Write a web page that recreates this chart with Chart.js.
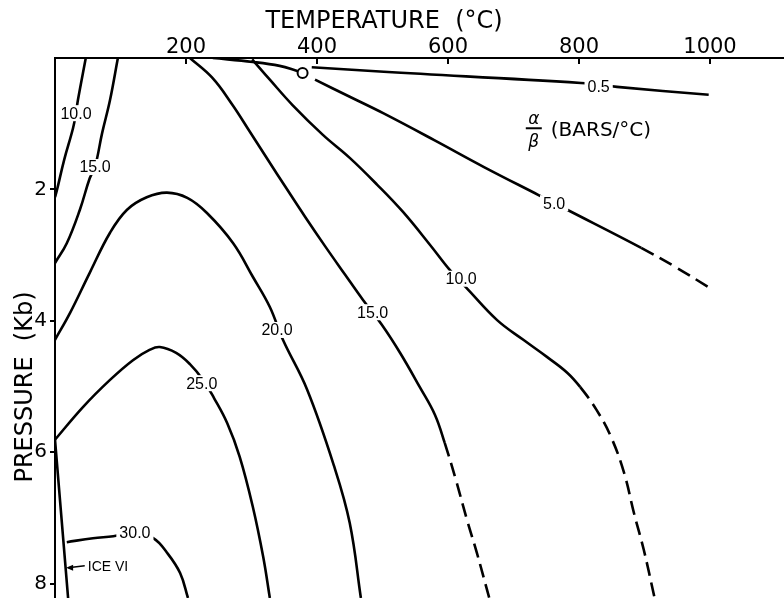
<!DOCTYPE html>
<html>
<head>
<meta charset="utf-8">
<script src="https://cdn.jsdelivr.net/npm/chart.js@4"></script>
<style>
  html, body { margin: 0; padding: 0; background: #fff; }
  #wrap { width: 784px; height: 598px; }
</style>
</head>
<body>
<div id="wrap"><canvas id="chart" width="784" height="598"></canvas></div>
<script>
// axis ticks
const xTicks = [200, 400, 600, 800, 1000];   // temperature, °C
const yTicks = [2, 4, 6, 8];                 // pressure, Kb

// contours of alpha/beta (bars/°C), points as [°C, Kb]
// the *Dashed arrays are the extrapolated (dashed) continuations
const c05 = [[392, 0.14], [502, 0.21], [803, 0.38], [858, 0.44], [998, 0.56]];
const c5 = [[397, 0.33], [450, 0.59], [501, 0.84], [579, 1.25], [655, 1.66], [739, 2.09], [782, 2.31], [895, 2.89]];
const c5Dashed = [[947, 3.18], [998, 3.49]];
const c10 = [[301, 0.02], [328, 0.33], [363, 0.72], [409, 1.17], [450, 1.52], [492, 1.93], [531, 2.34],
             [573, 2.85], [603, 3.23], [631, 3.53], [675, 3.99], [715, 4.29], [751, 4.55], [782, 4.79], [802, 5.01]];
const c10Dashed = [[827, 5.36], [849, 5.77], [869, 6.32], [884, 6.93], [899, 7.49], [915, 8.2]];
const c15 = [[206, 0], [240, 0.3], [270, 0.7], [298, 1.13], [325, 1.55], [353, 1.98], [382, 2.42], [412, 2.86],
             [443, 3.3], [470, 3.68], [499, 4.06], [527, 4.49], [557, 5.01], [580, 5.43], [595, 5.86]];
const c15Dashed = [[612, 6.42], [629, 7.03], [644, 7.53], [663, 8.22]];
const c20 = [[0, 4.29], [23, 3.88], [53, 3.27], [84, 2.66], [110, 2.31], [140, 2.12], [171, 2.05], [202, 2.13],
             [232, 2.36], [272, 2.82], [302, 3.33], [328, 3.79], [348, 4.29], [385, 5.05], [426, 6.21], [450, 7.08], [467, 8.22]];
const c25 = [[0, 5.81], [43, 5.31], [84, 4.9], [119, 4.6], [145, 4.44], [160, 4.4], [185, 4.49], [206, 4.66],
             [226, 4.9], [243, 5.18], [263, 5.56], [282, 6.07], [302, 6.83], [318, 7.6], [328, 8.22]];
const c30 = [[18, 7.37], [58, 7.31], [89, 7.28], [122, 7.23], [150, 7.31], [171, 7.53], [191, 7.84], [203, 8.22]];
const c10Low = [[47, 0], [35, 0.64], [32, 0.84], [27.5, 1.07], [14, 1.55], [3, 2.01], [0, 2.12]];
const c15Low = [[96, 0], [84, 0.64], [72, 1.14], [61, 1.66], [53, 1.83], [38, 2.31], [18, 2.82], [0, 3.12]];
const saturation = [[241, 0], [302, 0.06], [343, 0.12], [371, 0.2]];
const iceVI = [[0, 5.81], [20, 8.22]];
const criticalPoint = [[378, 0.23]];

// contour labels: [°C, Kb, text]
const contourLabels = [
  [830, 0.43, '0.5'], [762, 2.21, '5.0'], [620, 3.36, '10.0'], [485, 3.87, '15.0'],
  [339, 4.14, '20.0'], [224, 4.95, '25.0'], [122, 7.23, '30.0'], [32, 0.84, '10.0'], [61, 1.66, '15.0']
];
const iceLabel = [50, 7.73];
const iceArrowTip = [17, 7.76];
const ratioLabel = [731, 1.1];

function line(pts, dashedPts) {
  const all = dashedPts ? pts.concat(dashedPts) : pts;
  const dashFrom = pts.length - 1;
  return {
    data: all.map(([x, y]) => ({ x, y })),
    showLine: true,
    borderColor: '#000',
    borderWidth: 2.6,
    pointRadius: 0,
    tension: 0.4,
    fill: false,
    segment: {
      borderDash: ctx => (dashedPts && ctx.p0DataIndex >= dashFrom ? [14, 7] : undefined)
    }
  };
}

const noPadding = s => {
  s.paddingLeft = 0; s.paddingRight = 0; s.paddingTop = 0; s.paddingBottom = 0;
};

const overlay = {
  id: 'overlay',
  afterDatasetsDraw(chart) {
    const { ctx, chartArea: a, scales: { x, y } } = chart;
    ctx.save();

    // tick marks on the temperature axis point into the plot
    ctx.strokeStyle = '#000';
    ctx.lineWidth = 2;
    xTicks.forEach(v => {
      const px = x.getPixelForValue(v);
      ctx.beginPath();
      ctx.moveTo(px, a.top);
      ctx.lineTo(px, a.top + 6);
      ctx.stroke();
    });

    // contour values, set into a gap of their line
    ctx.font = '16px "Liberation Sans"';
    ctx.textAlign = 'center';
    ctx.textBaseline = 'middle';
    contourLabels.forEach(([t, p, txt]) => {
      const px = x.getPixelForValue(t), py = y.getPixelForValue(p);
      const w = ctx.measureText(txt).width;
      ctx.fillStyle = '#fff';
      ctx.fillRect(px - w / 2 - 3, py - 8, w + 6, 16);
      ctx.fillStyle = '#000';
      ctx.fillText(txt, px, py + 1);
    });

    // ICE VI with arrow
    const ix = x.getPixelForValue(iceLabel[0]), iy = y.getPixelForValue(iceLabel[1]);
    const tx = x.getPixelForValue(iceArrowTip[0]), ty = y.getPixelForValue(iceArrowTip[1]);
    ctx.font = '14px "Liberation Sans"';
    ctx.textAlign = 'left';
    ctx.fillText('ICE VI', ix, iy + 1);
    ctx.lineWidth = 1.5;
    ctx.beginPath();
    ctx.moveTo(ix - 3, iy);
    ctx.lineTo(tx + 2, ty);
    ctx.stroke();
    ctx.beginPath();
    ctx.moveTo(tx, ty);
    ctx.lineTo(tx + 7, ty - 3);
    ctx.lineTo(tx + 7, ty + 3);
    ctx.closePath();
    ctx.fill();

    // alpha / beta (BARS/°C)
    const rx = x.getPixelForValue(ratioLabel[0]), ry = y.getPixelForValue(ratioLabel[1]);
    ctx.textAlign = 'center';
    ctx.font = 'italic 17px "DejaVu Sans"';
    ctx.fillText('α', rx, ry - 11);
    ctx.fillText('β', rx, ry + 12);
    ctx.lineWidth = 2;
    ctx.beginPath();
    ctx.moveTo(rx - 8, ry - 2);
    ctx.lineTo(rx + 8, ry - 2);
    ctx.stroke();
    ctx.font = '20px "DejaVu Sans"';
    ctx.textAlign = 'left';
    ctx.fillText('(BARS/°C)', rx + 17, ry + 1);

    // axis titles
    ctx.font = '24px "DejaVu Sans"';
    ctx.textAlign = 'center';
    ctx.textBaseline = 'alphabetic';
    ctx.fillText('TEMPERATURE  (°C)', 384, 28);
    ctx.translate(32, 387);
    ctx.rotate(-Math.PI / 2);
    ctx.fillText('PRESSURE  (Kb)', 0, 0);
    ctx.restore();
  }
};

new Chart(document.getElementById('chart'), {
  type: 'scatter',
  data: {
    datasets: [
      line(c05), line(c5, c5Dashed), line(c10, c10Dashed), line(c15, c15Dashed),
      line(c20), line(c25), line(c30), line(c10Low), line(c15Low), line(saturation), line(iceVI),
      {
        data: criticalPoint.map(([x, y]) => ({ x, y })),
        pointRadius: 5,
        pointBorderWidth: 2,
        pointBorderColor: '#000',
        pointBackgroundColor: '#fff'
      }
    ]
  },
  options: {
    responsive: false,
    animation: false,
    layout: { padding: 0, autoPadding: false },
    plugins: { legend: { display: false }, tooltip: { enabled: false } },
    scales: {
      x: {
        type: 'linear',
        position: 'top',
        min: 0,
        max: 1113,
        afterBuildTicks: s => { s.ticks = xTicks.map(v => ({ value: v })); },
        afterFit: s => { s.height = 58; noPadding(s); },
        ticks: { color: '#000', font: { family: 'DejaVu Sans', size: 21 }, padding: -2, maxRotation: 0,
                 callback: v => String(v) },
        grid: { display: true, drawOnChartArea: false, drawTicks: false },
        border: { display: true, color: '#000', width: 2 }
      },
      y: {
        type: 'linear',
        reverse: true,
        min: 0,
        max: 8.22,
        afterBuildTicks: s => { s.ticks = yTicks.map(v => ({ value: v })); },
        afterFit: s => { s.width = 55; noPadding(s); },
        ticks: { color: '#000', font: { family: 'DejaVu Sans', size: 20 }, padding: 3 },
        grid: { display: true, drawOnChartArea: false, drawTicks: true, tickLength: 5, color: '#000', lineWidth: 2 },
        border: { display: true, color: '#000', width: 2 }
      }
    }
  },
  plugins: [overlay]
});
</script>
</body>
</html>
